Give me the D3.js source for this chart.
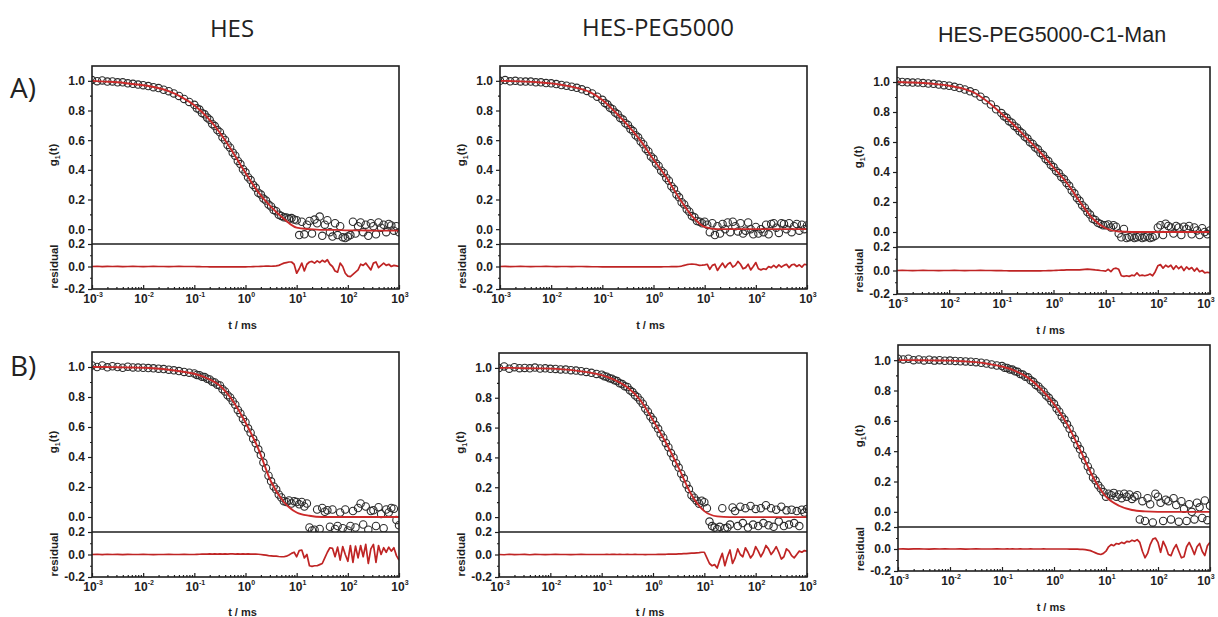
<!DOCTYPE html>
<html>
<head>
<meta charset="utf-8">
<script src="https://cdn.jsdelivr.net/npm/d3@7"></script>
<style>
  body { margin: 0; background: #fff; }
  svg { display: block; }
</style>
</head>
<body>
<svg id="fig" width="1218" height="617"></svg>
<script>
// Correlator lag times, log10(t / ms)
const lagLog10 = [
  -3.0,-2.9,-2.8,-2.7,-2.6,-2.5,-2.4,-2.3,-2.2,-2.1,
  -2.0,-1.9,-1.8,-1.7,-1.6,-1.5,-1.4,-1.3,-1.2,-1.1,
  -1.0,-0.95,-0.9,-0.85,-0.8,-0.75,-0.7,-0.65,-0.6,-0.55,
  -0.5,-0.45,-0.4,-0.35,-0.3,-0.25,-0.2,-0.15,-0.1,-0.05,
  0.0,0.05,0.1,0.15,0.2,0.25,0.3,0.35,0.4,0.45,
  0.5,0.55,0.6,0.65,0.7,0.75,0.8,0.85,0.9,0.95,
  1.0,1.05,1.1,1.15,1.2,1.25,1.3,1.35,1.4,1.45,
  1.5,1.55,1.6,1.65,1.7,1.75,1.8,1.85,1.9,1.95,
  2.0,2.05,2.1,2.15,2.2,2.25,2.3,2.35,2.4,2.45,
  2.5,2.55,2.6,2.65,2.7,2.75,2.8,2.85,2.9,2.95,
  3.0
];
// Lag grid of the fitted curves, log10(t / ms)
const fitLog10 = [-3,-2.75,-2.5,-2.25,-2,-1.75,-1.5,-1.25,-1,-0.75,-0.5,-0.25,0,0.25,0.5,0.75,1,1.25,1.5,1.75,2,2.25,2.5,2.75,3];

const columnTitles = ["HES", "HES-PEG5000", "HES-PEG5000-C1-Man"];
const rowLabels = ["A)", "B)"];
const g1Ticks = [0, 0.2, 0.4, 0.6, 0.8, 1.0];
const g1MinorTicks = [0.1, 0.3, 0.5, 0.7, 0.9];
const residualTicks = [-0.2, 0, 0.2];
const residualMinorTicks = [-0.1, 0.1];
const decadeExponents = [-3, -2, -1, 0, 1, 2, 3];

// ---- A) HES ----
const g1_HES_A = [
  1.005,0.998,1.003,0.995,0.996,0.99,0.99,0.983,0.98,0.975,
  0.971,0.965,0.957,0.951,0.94,0.93,0.915,0.898,0.878,0.858,
  0.838,0.815,0.806,0.783,0.774,0.752,0.737,0.709,0.695,0.668,
  0.654,0.62,0.601,0.568,0.549,0.516,0.495,0.46,0.439,0.404,
  0.383,0.35,0.331,0.298,0.279,0.246,0.233,0.206,0.193,0.166,
  0.153,0.13,0.121,0.098,0.089,0.08,0.078,0.07,0.075,0.065,
  0.06,-0.04,0.05,-0.035,0.03,0.055,-0.03,0.065,0.04,0.085,
  -0.045,0.03,0.06,-0.02,-0.05,0.04,-0.04,0.02,-0.055,-0.06,
  -0.05,-0.04,0.05,-0.03,0.02,0.045,-0.02,0.03,-0.045,0.04,
  0.02,-0.035,0.045,0.01,0.03,-0.02,0.035,0.025,-0.01,0.02,
  -0.02
];
const fit_HES_A = [1.0,0.995,0.99,0.98,0.97,0.955,0.93,0.89,0.835,0.755,0.65,0.52,0.38,0.25,0.15,0.07,0.01,0.0,-0.005,-0.005,-0.008,-0.008,-0.01,-0.01,-0.01];
const res_HES_A = [
  0,0.002,-0.001,0.001,0,0.001,-0.001,0,0.001,0,
  -0.001,0,0.001,0,0,-0.001,0,0.001,0,0,
  0,-0.001,0,-0.002,-0.002,-0.002,-0.003,-0.002,-0.003,-0.003,
  -0.003,-0.004,-0.003,-0.003,-0.004,-0.003,-0.003,-0.004,-0.003,-0.002,
  -0.003,-0.002,-0.002,-0.001,0,0,0.001,0.002,0.003,0.004,
  0.002,0.004,0.005,0.01,0.02,0.03,0.035,0.04,0.04,0.02,
  -0.06,-0.02,0.03,-0.04,0.02,0.04,0.045,0.03,0.05,0.035,
  0.055,0.04,0.06,0.02,0.0,-0.04,-0.05,0.03,0.0,-0.06,
  -0.085,-0.09,-0.07,-0.05,-0.03,0.02,0.01,0.03,0.0,-0.03,
  0.03,0.04,-0.01,0.01,0.03,0.01,0.02,0.0,0.01,0.005,
  0.0
];

// ---- A) HES-PEG5000 ----
const g1_PEG_A = [
  1.0,1.005,0.997,1.0,0.996,0.995,0.995,0.99,0.99,0.985,
  0.983,0.978,0.972,0.967,0.96,0.953,0.943,0.932,0.915,0.893,
  0.872,0.851,0.84,0.818,0.809,0.786,0.775,0.75,0.739,0.714,
  0.703,0.675,0.661,0.633,0.619,0.591,0.573,0.541,0.524,0.49,
  0.474,0.442,0.426,0.394,0.379,0.345,0.327,0.29,0.27,0.234,
  0.215,0.182,0.167,0.134,0.118,0.088,0.08,0.055,0.05,0.04,
  0.05,0.03,-0.02,0.04,-0.04,0.02,-0.03,0.035,0.0,0.045,
  -0.02,0.05,0.02,-0.015,0.04,-0.03,-0.01,0.045,0.0,-0.035,
  0.015,-0.03,0.0,-0.02,0.03,-0.035,0.035,0.04,0.01,-0.025,
  0.04,0.035,0.0,0.04,-0.02,0.02,0.035,-0.01,0.03,0.0,
  0.025
];
const fit_PEG_A = [1.0,0.998,0.995,0.99,0.983,0.97,0.953,0.925,0.87,0.79,0.70,0.595,0.47,0.35,0.21,0.09,0.015,0.0,0.0,0.0,0.0,0.0,0.0,0.0,0.0];
const res_PEG_A = [
  0,0.001,-0.001,0,0.001,0,-0.001,0,0,0.001,
  0,-0.001,0,0,-0.001,0,0,-0.001,-0.002,-0.002,
  -0.003,-0.003,-0.002,-0.003,-0.004,-0.003,-0.003,-0.002,-0.003,-0.004,
  -0.003,-0.003,-0.002,-0.003,-0.003,-0.004,-0.003,-0.003,-0.002,-0.003,
  -0.003,-0.002,-0.003,-0.003,-0.002,-0.002,-0.002,-0.001,-0.001,-0.001,
  0.0,0.004,0.01,0.016,0.02,0.022,0.02,0.016,0.01,0.012,
  0.015,0.02,-0.025,0.01,0.02,-0.035,0.0,0.03,-0.01,0.02,
  0.035,-0.005,0.01,0.045,0.02,-0.02,-0.01,0.02,-0.03,0.0,
  0.035,-0.02,-0.03,-0.02,-0.025,0.0,-0.01,0.01,-0.01,0.015,
  -0.005,0.01,0.02,-0.01,0.015,0.02,0.0,0.015,-0.005,0.02,
  0.015
];

// ---- A) HES-PEG5000-C1-Man ----
const g1_MAN_A = [
  1.005,1.0,0.998,0.996,0.997,0.993,0.99,0.988,0.983,0.979,
  0.975,0.968,0.96,0.95,0.938,0.925,0.902,0.878,0.85,0.818,
  0.793,0.771,0.761,0.739,0.729,0.707,0.695,0.671,0.659,0.635,
  0.623,0.599,0.587,0.563,0.551,0.527,0.513,0.487,0.473,0.447,
  0.433,0.407,0.393,0.367,0.353,0.327,0.308,0.277,0.258,0.227,
  0.208,0.179,0.162,0.133,0.116,0.088,0.08,0.061,0.054,0.045,
  0.045,0.05,0.03,0.045,0.035,-0.01,-0.035,0.02,-0.04,-0.035,
  -0.03,-0.04,-0.035,-0.03,-0.04,-0.035,-0.03,-0.04,-0.035,-0.025,
  0.03,0.045,-0.02,0.055,0.04,0.03,-0.01,0.04,0.03,-0.02,
  0.035,0.02,0.04,-0.015,0.03,0.01,-0.02,0.025,0.0,-0.015,
  0.01
];
const fit_MAN_A = [1.0,0.997,0.993,0.986,0.975,0.957,0.925,0.865,0.79,0.71,0.62,0.53,0.43,0.33,0.205,0.09,0.025,0.003,0.0,0.0,0.0,0.0,0.0,0.0,0.0];
const res_MAN_A = [
  0,0.001,0,-0.001,0,0.001,0,0,-0.001,0,
  0,0.001,0,-0.001,0,0,0.001,0,0,-0.001,
  -0.001,-0.002,-0.002,-0.003,-0.002,-0.003,-0.003,-0.002,-0.003,-0.003,
  -0.004,-0.003,-0.003,-0.002,-0.003,-0.003,-0.002,-0.002,-0.001,-0.001,
  0.0,0.001,0.002,0.003,0.004,0.005,0.006,0.005,0.006,0.005,
  0.005,0.008,0.01,0.012,0.01,0.008,0.005,0.003,0.0,-0.002,
  -0.005,0.01,-0.01,0.015,0.02,0.01,-0.045,-0.05,-0.045,-0.05,
  -0.04,-0.045,-0.02,-0.045,-0.04,-0.045,-0.04,-0.03,-0.045,-0.01,
  0.04,0.05,0.02,0.045,0.03,0.045,0.01,0.04,0.015,0.035,
  0.0,0.03,0.01,0.025,-0.005,0.02,-0.01,0.0,-0.02,-0.015,
  -0.02
];

// ---- B) HES ----
const g1_HES_B = [
  1.01,1.0,1.01,0.998,1.005,1.0,0.995,1.002,0.997,0.996,
  0.995,0.993,0.991,0.989,0.986,0.982,0.978,0.973,0.967,0.962,
  0.957,0.947,0.945,0.935,0.933,0.922,0.917,0.902,0.897,0.882,
  0.877,0.852,0.837,0.812,0.797,0.772,0.749,0.714,0.69,0.655,
  0.632,0.591,0.562,0.521,0.492,0.451,0.413,0.363,0.325,0.275,
  0.238,0.204,0.184,0.15,0.13,0.105,0.1,0.11,0.09,0.105,
  0.1,0.085,0.1,0.07,0.09,-0.07,-0.09,-0.085,0.05,-0.08,
  0.06,0.035,0.045,-0.065,0.05,-0.08,-0.06,0.03,-0.075,0.05,
  -0.09,-0.06,0.04,-0.07,0.06,0.09,-0.05,0.07,-0.085,0.04,
  0.045,-0.06,0.065,0.02,-0.075,0.05,0.03,0.06,0.055,-0.02,
  -0.055
];
const fit_HES_B = [1.0,1.0,0.998,0.997,0.995,0.99,0.982,0.97,0.955,0.925,0.875,0.775,0.63,0.455,0.235,0.10,0.03,0.008,0.0,0.0,0.0,0.0,0.0,0.0,0.0];
const res_HES_B = [
  0,0.002,-0.001,0.002,0,0.001,-0.001,0.001,0,0,
  0.001,0,-0.001,0,0,0.001,0,0,0.001,0,
  0,0.001,0.002,0.003,0.004,0.004,0.005,0.004,0.005,0.004,
  0.005,0.004,0.005,0.004,0.005,0.005,0.004,0.005,0.004,0.005,
  0.004,0.005,0.004,0.004,0.003,0.002,0.0,-0.003,-0.006,-0.01,
  -0.012,-0.015,-0.015,-0.018,-0.02,-0.02,-0.015,-0.005,0.01,0.02,
  -0.02,0.035,0.04,-0.03,0.0,-0.1,-0.105,-0.1,-0.1,-0.09,
  -0.08,-0.03,0.02,0.06,0.055,-0.02,0.065,-0.05,0.07,0.0,
  -0.06,0.08,-0.07,0.075,-0.03,0.08,-0.02,0.09,-0.08,0.05,
  0.09,-0.07,0.08,0.0,0.06,0.02,0.065,0.03,0.06,-0.01,
  -0.05
];

// ---- B) HES-PEG5000 ----
const g1_PEG_B = [
  1.0,1.01,0.995,1.005,0.998,1.0,0.997,1.002,0.996,0.997,
  0.994,0.993,0.99,0.989,0.985,0.982,0.978,0.973,0.967,0.96,
  0.955,0.944,0.941,0.93,0.928,0.917,0.912,0.897,0.892,0.877,
  0.872,0.85,0.838,0.816,0.804,0.782,0.76,0.728,0.706,0.674,
  0.652,0.617,0.592,0.557,0.532,0.497,0.468,0.429,0.4,0.361,
  0.332,0.291,0.26,0.219,0.188,0.147,0.13,0.11,0.09,0.11,
  0.1,0.06,-0.03,-0.06,-0.07,-0.08,-0.065,0.06,-0.075,-0.07,
  -0.05,0.065,0.04,-0.06,0.07,-0.04,0.06,-0.07,0.075,-0.05,
  0.055,-0.06,0.06,-0.04,0.08,-0.055,0.06,-0.065,0.05,-0.03,
  0.07,-0.06,0.045,-0.05,0.05,-0.04,0.04,-0.06,0.05,0.03,
  0.055
];
const fit_PEG_B = [1.0,1.0,0.998,0.997,0.995,0.99,0.982,0.97,0.952,0.92,0.87,0.785,0.65,0.5,0.33,0.15,0.04,0.005,0.0,0.0,0.0,0.0,0.0,0.0,0.0];
const res_PEG_B = [
  0,-0.002,0.002,-0.001,0,0.001,-0.002,0.001,0,-0.001,
  0,0.001,0,0,-0.001,0,0.001,0,0,0,
  0,0,0.001,0,0.001,0.001,0,0.001,0,0,
  0.001,0,0,0.001,0,0,0,-0.001,0,0,
  0,0,0.001,0.001,0.002,0.002,0.003,0.003,0.004,0.004,
  0.005,0.006,0.007,0.008,0.01,0.012,0.013,0.015,0.017,0.02,
  0.02,-0.03,-0.08,-0.1,-0.09,-0.12,-0.05,0.01,-0.1,-0.02,
  0.04,-0.08,-0.03,0.05,0.0,-0.02,0.06,0.02,-0.03,0.0,
  0.07,0.03,-0.02,0.02,0.08,0.05,0.0,0.03,0.07,0.02,
  -0.04,-0.02,0.05,0.03,-0.01,-0.03,0.0,0.03,0.02,0.035,
  0.03
];

// ---- B) HES-PEG5000-C1-Man ----
const g1_MAN_B = [
  1.01,1.005,1.01,1.0,1.005,0.998,1.003,0.997,1.0,0.996,
  0.997,0.995,0.993,0.992,0.99,0.987,0.983,0.978,0.972,0.965,
  0.961,0.95,0.949,0.938,0.938,0.927,0.923,0.909,0.905,0.891,
  0.887,0.867,0.857,0.837,0.827,0.807,0.792,0.767,0.752,0.727,
  0.712,0.681,0.66,0.629,0.608,0.577,0.548,0.509,0.48,0.441,
  0.412,0.371,0.34,0.299,0.268,0.227,0.206,0.175,0.154,0.13,
  0.1,0.12,0.11,0.125,0.1,0.115,0.09,0.12,0.1,0.115,
  0.085,0.1,0.11,-0.05,0.07,-0.06,0.09,0.05,-0.07,0.12,
  0.1,0.06,-0.06,0.08,0.07,-0.05,0.09,0.045,-0.065,0.07,
  0.02,-0.06,0.05,0.0,-0.05,0.06,0.03,-0.04,0.075,-0.055,
  0.04
];
const fit_MAN_B = [1.0,1.0,0.999,0.998,0.997,0.993,0.987,0.975,0.958,0.93,0.885,0.81,0.71,0.58,0.41,0.23,0.1,0.04,0.012,0.003,0.0,0.0,0.0,0.0,0.0];
const res_MAN_B = [
  0,0.002,-0.001,0.001,0.002,0,-0.001,0.001,0,0.001,
  0,0,0.001,-0.001,0,0.001,0,0,0,0.001,
  0,0,0.001,0,0.001,0,0,0.001,0,0,
  0,0.001,0,0,0,0,0.001,0,0,0,
  0,0,0,0,0,0,-0.001,-0.001,-0.002,-0.002,
  -0.003,-0.004,-0.005,-0.01,-0.015,-0.025,-0.035,-0.045,-0.05,-0.04,
  -0.02,0.02,0.04,0.03,0.05,0.045,0.06,0.05,0.07,0.065,
  0.08,0.07,0.085,0.06,-0.02,-0.08,-0.04,0.04,0.09,0.1,
  0.06,-0.03,0.07,0.02,-0.05,-0.06,0.0,0.04,-0.02,-0.08,
  -0.07,0.02,0.06,0.01,-0.05,0.02,0.05,-0.02,-0.06,0.03,
  0.06
];

// Panel frames (pixel boxes) and the series drawn in each
const panels = [
  { g1: g1_HES_A, fit: fit_HES_A, res: res_HES_A, box: { left: 92,  right: 399,  top: 66,  mid: 244, bottom: 289 } },
  { g1: g1_PEG_A, fit: fit_PEG_A, res: res_PEG_A, box: { left: 500, right: 807,  top: 66,  mid: 244, bottom: 289 } },
  { g1: g1_MAN_A, fit: fit_MAN_A, res: res_MAN_A, box: { left: 897, right: 1210, top: 67,  mid: 247, bottom: 294 } },
  { g1: g1_HES_B, fit: fit_HES_B, res: res_HES_B, box: { left: 92,  right: 399,  top: 352, mid: 532, bottom: 577 } },
  { g1: g1_PEG_B, fit: fit_PEG_B, res: res_PEG_B, box: { left: 499, right: 807,  top: 353, mid: 532, bottom: 577 } },
  { g1: g1_MAN_B, fit: fit_MAN_B, res: res_MAN_B, box: { left: 898, right: 1210, top: 345, mid: 527, bottom: 571 } }
];

const svg = d3.select("#fig");
const WIDTH = 1218;
const INK = "#1e1e1e";
const RED = "#cc2a2a";
const AXIS_FONT = "'Liberation Sans', Arial, sans-serif";
const TICK_SIZE = 12;
const fmt = d => d.toFixed(1);

// log-axis minor tick positions: 2..9 x 10^e
const minorDecadeTicks = [];
decadeExponents.slice(0, -1).forEach(e => {
  for (let m = 2; m <= 9; m++) minorDecadeTicks.push(m * Math.pow(10, e));
});

function styleAxis(sel) {
  sel.select(".domain").remove();
  sel.attr("font-family", AXIS_FONT).attr("font-size", TICK_SIZE).attr("font-weight", "bold").attr("color", INK);
  sel.selectAll(".tick line").attr("stroke-width", 1.2);
}

panels.forEach((p, idx) => {
  const b = p.box;
  const x = d3.scaleLog().domain([1e-3, 1e3]).range([b.left, b.right]);
  const yG = d3.scaleLinear().domain([-0.1, 1.1]).range([b.mid, b.top]);
  const yR = d3.scaleLinear().domain([-0.2, 0.2]).range([b.bottom, b.mid]);
  const g = svg.append("g");

  const defs = g.append("defs");
  defs.append("clipPath").attr("id", "clipG" + idx).append("rect")
    .attr("x", b.left).attr("y", b.top).attr("width", b.right - b.left).attr("height", b.mid - b.top);
  defs.append("clipPath").attr("id", "clipR" + idx).append("rect")
    .attr("x", b.left).attr("y", b.mid).attr("width", b.right - b.left).attr("height", b.bottom - b.mid);

  // measured correlation function: open circles
  const pts = lagLog10.map((l, i) => ({ t: Math.pow(10, l), v: p.g1[i] }));
  g.append("g").attr("clip-path", `url(#clipG${idx})`)
    .selectAll("circle").data(pts).join("circle")
    .attr("cx", d => x(d.t)).attr("cy", d => yG(d.v)).attr("r", 3.7)
    .attr("fill", "none").attr("stroke", "#2c2c2c").attr("stroke-width", 1.1);

  // fitted curve
  const fitLine = d3.line().x(d => x(Math.pow(10, d[0]))).y(d => yG(d[1])).curve(d3.curveMonotoneX);
  g.append("path").attr("clip-path", `url(#clipG${idx})`)
    .datum(fitLog10.map((l, i) => [l, p.fit[i]]))
    .attr("d", fitLine).attr("fill", "none").attr("stroke", RED).attr("stroke-width", 1.9);

  // residuals
  const resLine = d3.line().x(d => x(Math.pow(10, d[0]))).y(d => yR(d[1]));
  g.append("path").attr("clip-path", `url(#clipR${idx})`)
    .datum(lagLog10.map((l, i) => [l, p.res[i]]))
    .attr("d", resLine).attr("fill", "none").attr("stroke", "#bf2424").attr("stroke-width", 1.7)
    .attr("stroke-linejoin", "round");

  // y axes (g1 and residual), ticks outward
  g.append("g").attr("transform", `translate(${b.left},0)`)
    .call(d3.axisLeft(yG).tickValues(g1Ticks).tickSize(4).tickPadding(3).tickFormat(fmt)).call(styleAxis);
  g.append("g").attr("transform", `translate(${b.left},0)`)
    .call(d3.axisLeft(yG).tickValues(g1MinorTicks).tickSize(2).tickFormat("")).call(styleAxis);
  g.append("g").attr("transform", `translate(${b.left},0)`)
    .call(d3.axisLeft(yR).tickValues(residualTicks).tickSize(4).tickPadding(3).tickFormat(fmt)).call(styleAxis);
  g.append("g").attr("transform", `translate(${b.left},0)`)
    .call(d3.axisLeft(yR).tickValues(residualMinorTicks).tickSize(2).tickFormat("")).call(styleAxis);

  // x axis (log), ticks inward
  g.append("g").attr("transform", `translate(0,${b.bottom})`)
    .call(d3.axisBottom(x).tickValues(decadeExponents.map(e => Math.pow(10, e))).tickSize(-4).tickFormat("")).call(styleAxis);
  g.append("g").attr("transform", `translate(0,${b.bottom})`)
    .call(d3.axisBottom(x).tickValues(minorDecadeTicks).tickSize(-2).tickFormat("")).call(styleAxis);

  // decade labels; a label that would run past the page edge is pulled back inside
  g.append("g").selectAll("text").data(decadeExponents).join("text")
    .attr("x", e => Math.min(x(Math.pow(10, e)) + 1, WIDTH - 12)).attr("y", b.bottom + 14)
    .attr("text-anchor", "middle").attr("font-family", AXIS_FONT)
    .attr("font-size", TICK_SIZE).attr("font-weight", "bold").attr("fill", INK)
    .each(function (e) {
      const t = d3.select(this);
      t.append("tspan").text("10");
      t.append("tspan").attr("dy", -6).attr("font-size", 7).text(String(e));
    });

  // frame and divider
  g.append("rect").attr("x", b.left).attr("y", b.top)
    .attr("width", b.right - b.left).attr("height", b.bottom - b.top)
    .attr("fill", "none").attr("stroke", INK).attr("stroke-width", 1.6);
  g.append("line").attr("x1", b.left).attr("x2", b.right).attr("y1", b.mid).attr("y2", b.mid)
    .attr("stroke", INK).attr("stroke-width", 1.6);

  // axis titles
  const gTitle = g.append("text")
    .attr("transform", `translate(${b.left - 35},${(b.top + b.mid) / 2}) rotate(-90)`)
    .attr("text-anchor", "middle").attr("font-family", AXIS_FONT)
    .attr("font-size", 11.5).attr("font-weight", "bold").attr("fill", INK);
  gTitle.append("tspan").text("g");
  gTitle.append("tspan").attr("font-size", 7).attr("dy", 3).text("1");
  gTitle.append("tspan").attr("dy", -3).text("(t)");

  g.append("text")
    .attr("transform", `translate(${b.left - 34},${(b.mid + b.bottom) / 2}) rotate(-90)`)
    .attr("text-anchor", "middle").attr("font-family", AXIS_FONT)
    .attr("font-size", 11.5).attr("font-weight", "bold").attr("fill", INK)
    .text("residual");

  g.append("text")
    .attr("x", (b.left + b.right) / 2 - 3).attr("y", Math.min(b.bottom + 40, 616))
    .attr("text-anchor", "middle").attr("font-family", AXIS_FONT)
    .attr("font-size", 11).attr("font-weight", "bold").attr("fill", INK)
    .text("t / ms");
});

// column headings
const headingSpots = [
  { x: 232,  y: 37, font: "'Open Sans', 'Noto Sans', sans-serif", size: 24 },
  { x: 658,  y: 36, font: "'Open Sans', 'Noto Sans', sans-serif", size: 24 },
  { x: 1052, y: 42, font: "'Liberation Sans', Arial, sans-serif", size: 21.5 }
];
svg.append("g").selectAll("text").data(columnTitles).join("text")
  .attr("x", (d, i) => headingSpots[i].x).attr("y", (d, i) => headingSpots[i].y)
  .attr("text-anchor", "middle")
  .attr("font-family", (d, i) => headingSpots[i].font)
  .attr("font-size", (d, i) => headingSpots[i].size)
  .attr("fill", "#222").text(d => d);

// row labels
const rowBaselines = [98, 376];
svg.append("g").selectAll("text").data(rowLabels).join("text")
  .attr("x", 10).attr("y", (d, i) => rowBaselines[i])
  .attr("font-family", "'Open Sans', 'Noto Sans', sans-serif")
  .attr("font-size", 28).attr("fill", "#222").text(d => d);
</script>
</body>
</html>
